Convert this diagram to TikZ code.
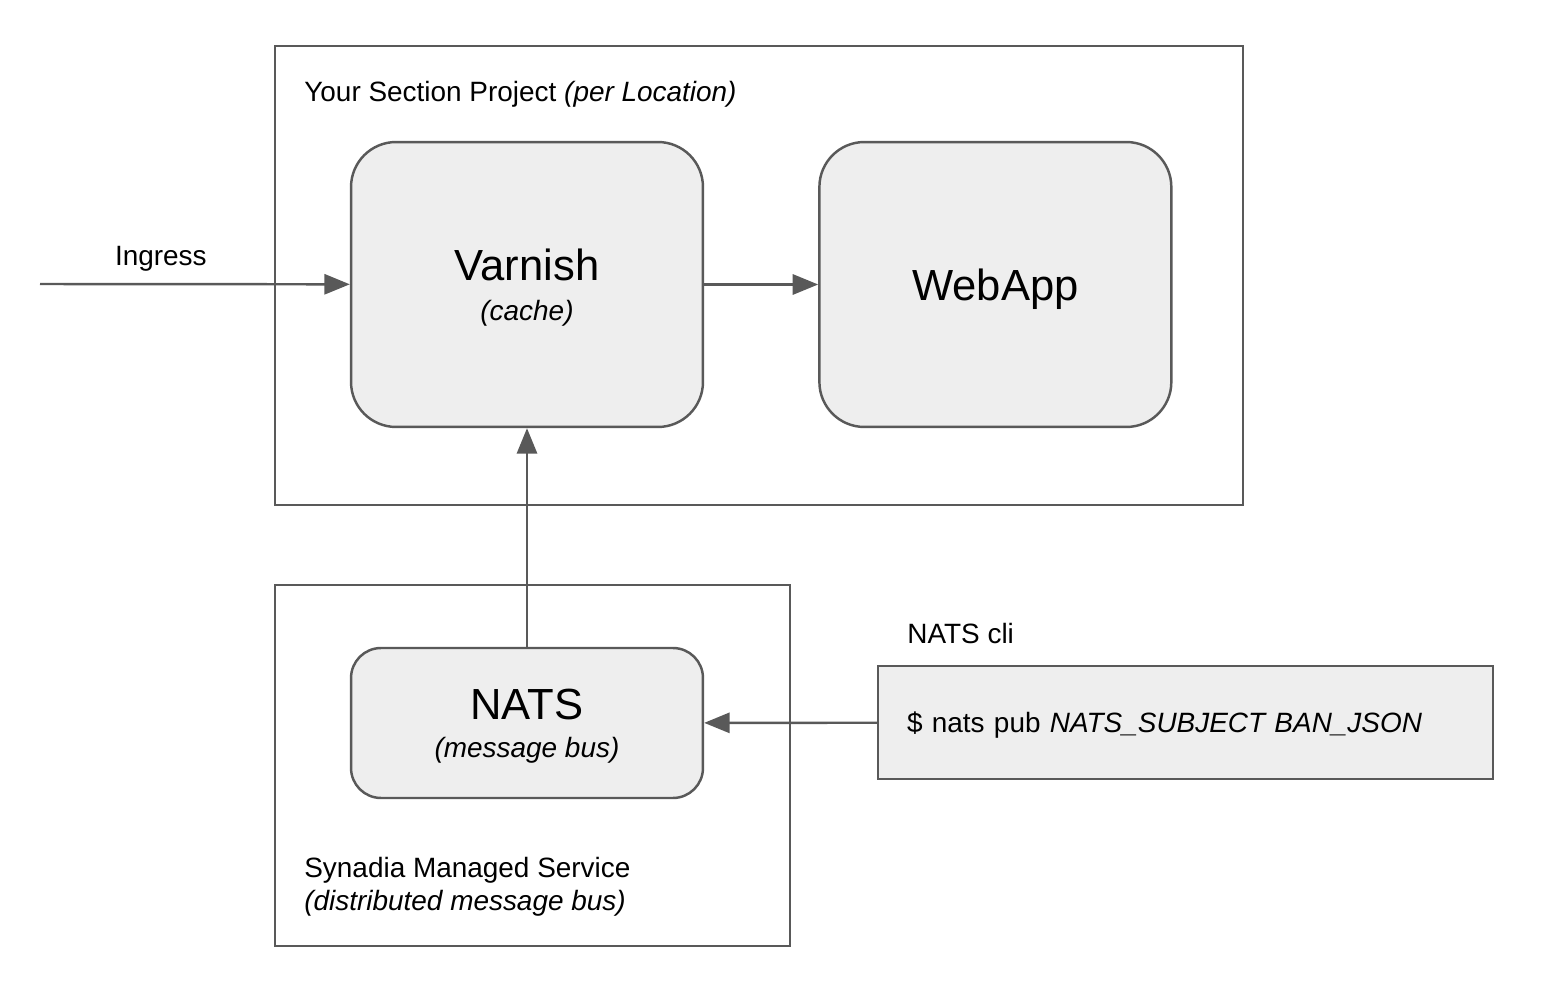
\documentclass[tikz,border=0pt]{standalone}
\usepackage{fontspec}
\setmainfont{Liberation Sans}
\usetikzlibrary{arrows.meta,positioning}
\definecolor{linegray}{HTML}{595959}
\definecolor{boxgray}{HTML}{EEEEEE}
\begin{document}
\begin{tikzpicture}[x=0.02cm,y=-0.02cm,auto,node distance=2.28cm,
  font=\fontsize{15.9}{18.9}\selectfont,
  frame node/.style={rectangle,draw=linegray,line width=1.4pt,inner sep=0pt},
  main node/.style={rectangle,rounded corners=0.9cm,draw=linegray,fill=boxgray,line width=1.4pt,
    minimum width=7.04cm,minimum height=5.7cm,align=center,text depth=-5pt,
    font=\fontsize{15.9}{22.8}\selectfont},
  flow/.style={draw=linegray,line width=1.4pt,-{Triangle[length=14.5pt,width=11.5pt]}},
  big/.style={font=\fontsize{24.8}{30}\selectfont}]
  \useasboundingbox (0,0) rectangle (1549,996);

  % project with varnish and webapp
  \node[frame node,minimum width=19.36cm,minimum height=9.18cm] (project) at (759,275.5) {};
  \node[anchor=base west,inner sep=0pt] (project title) at (304,102) {Your Section Project \textit{(per Location)}};
  \node[main node] (varnish) at (527,284.5) {{\fontsize{24.8}{22.8}\selectfont Varnish}\\\textit{(cache)}};
  \node[main node,big,text depth=0pt] (webapp) [right=of varnish] {WebApp};
  \coordinate (ingress) at (40,284);

  % synadia with nats
  \node[frame node,minimum width=10.3cm,minimum height=7.22cm] (synadia) at (532.5,765.5) {};
  \node[main node,rounded corners=0.6cm,minimum height=3cm,font=\fontsize{15.9}{21.5}\selectfont] (nats) at (527,723)
    {{\fontsize{24.8}{21.5}\selectfont NATS}\\\textit{(message bus)}};
  \node[anchor=north west,align=left,inner sep=0pt] (synadia title) at (304,857)
    {Synadia Managed Service\\\textit{(distributed message bus)}};

  % cli
  \node[frame node,fill=boxgray,minimum height=2.26cm,text width=11.14cm,inner xsep=0.58cm,align=left,text depth=0pt] (cli) at (1185.5,722.5)
    {\$ nats pub \textit{NATS\_SUBJECT BAN\_JSON}};
  \node[anchor=base west,inner sep=0pt] (cli title) at (907,643) {NATS cli};

  \path
    (ingress) edge[flow] node[above=3.4pt,pos=0.39] {Ingress} (varnish)
    (varnish) edge[flow] (webapp)
    (nats) edge[flow] (varnish)
    (cli) edge[flow] (nats);
\end{tikzpicture}
\end{document}
